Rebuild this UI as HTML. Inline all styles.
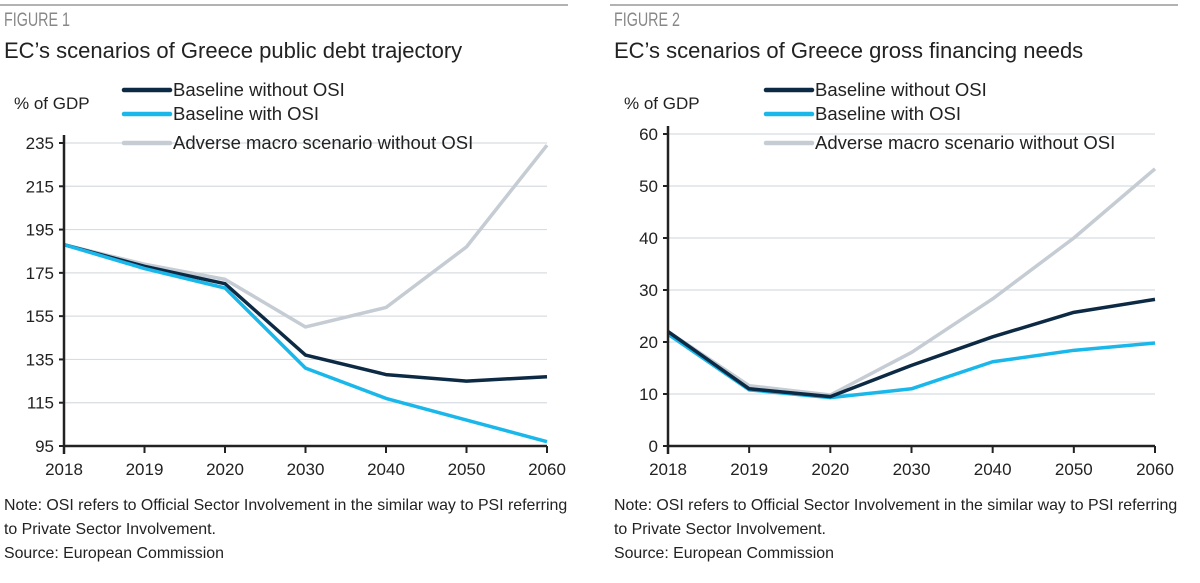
<!DOCTYPE html>
<html><head><meta charset="utf-8"><style>
body{margin:0;background:#fff;font-family:"Liberation Sans",sans-serif;}
svg text{font-family:"Liberation Sans",sans-serif;}
</style></head><body>
<svg width="1200" height="578">
<g id="c1"></g><g id="c2"></g>
</svg>
<script>
const years=["2018","2019","2020","2030","2040","2050","2060"];
const debtBaseline=[188,178,170,137,128,125,127];
const debtWithOsi=[188,177,168,131,117,107,97];
const debtAdverse=[188,179,172,150,159,187,234];
const debtTicks=[95,115,135,155,175,195,215,235];
const gfnBaseline=[22,11,9.5,15.5,21,25.7,28.2];
const gfnWithOsi=[21.5,10.8,9.3,11,16.2,18.4,19.8];
const gfnAdverse=[22,11.6,9.8,18,28.3,40,53.3];
const gfnTicks=[0,10,20,30,40,50,60];
const NS="http://www.w3.org/2000/svg";
function mk(p,t,a){const e=document.createElementNS(NS,t);for(const k in a)e.setAttribute(k,a[k]);p.appendChild(e);return e;}
function panel(g,o){
  const X=i=>o.x0+(o.x1-o.x0)*i/(years.length-1);
  const Y=v=>o.y0+(o.y1-o.y0)*(v-o.vmin)/(o.vmax-o.vmin);
  let e=mk(g,"line",{x1:o.left,x2:o.left+568,y1:5,y2:5,stroke:"#999","stroke-width":1.5});
  
  e=mk(g,"text",{x:o.left+4,y:26,"font-size":19,fill:"#888",textLength:66,lengthAdjust:"spacingAndGlyphs"});e.textContent=o.fig;
  
  e=mk(g,"text",{x:o.left+4,y:58,"font-size":22,fill:"#222"});e.textContent=o.title;
  
  e=mk(g,"text",{x:o.left+14,y:109,"font-size":17,fill:"#222"});e.textContent="% of GDP";
  
  o.ticks.forEach(t=>{
    const y=Y(t);
    if(t!==o.vmin){e=mk(g,"line",{x1:o.x0,x2:o.x1,y1:y,y2:y,stroke:"#d8dde2","stroke-width":1.2});
    }
    e=mk(g,"line",{x1:o.x0-5,x2:o.x0,y1:y,y2:y,stroke:"#222","stroke-width":2});
    
    e=mk(g,"text",{x:o.x0-10,y:y+6,"font-size":17,fill:"#222","text-anchor":"end"});e.textContent=t;
    
  });
  const series=[[o.adv,"#c5ccd3","adverse-line"],[o.base,"#0d2a45","baseline-without-osi-line"],[o.osi,"#1ab7ea","baseline-with-osi-line"]];
  const order=o.osiOnTop?[0,1,2]:[0,2,1];
  order.forEach(k=>{const s=series[k];
    e=mk(g,"polyline",{points:s[0].map((v,i)=>X(i)+","+Y(v)).join(" "),fill:"none",stroke:s[1],"stroke-width":3.5,"stroke-linejoin":"round"});
    
  });
  e=mk(g,"line",{x1:o.x0,x2:o.x0,y1:Y(o.vmax)-8,y2:o.y0+8,stroke:"#222","stroke-width":2.5});
  
  e=mk(g,"line",{x1:o.x0,x2:o.x1,y1:o.y0,y2:o.y0,stroke:"#222","stroke-width":2.5});
  
  years.forEach((yr,i)=>{
    e=mk(g,"line",{x1:X(i),x2:X(i),y1:o.y0,y2:o.y0+7,stroke:"#222","stroke-width":2});
    
    e=mk(g,"text",{x:X(i),y:o.y0+29,"font-size":17,fill:"#222","text-anchor":"middle"});e.textContent=yr;
    
  });
  const leg=[["Baseline without OSI","#0d2a45",90],["Baseline with OSI","#1ab7ea",114],["Adverse macro scenario without OSI","#c5ccd3",143]];
  leg.forEach(l=>{
    e=mk(g,"line",{x1:o.lx,x2:o.lx+46,y1:l[2],y2:l[2],stroke:l[1],"stroke-width":4.5,"stroke-linecap":"round"});
    
    e=mk(g,"text",{x:o.lx+49,y:l[2]+6,"font-size":18.5,fill:"#222"});e.textContent=l[0];
    
  });
  const notes=["Note: OSI refers to Official Sector Involvement in the similar way to PSI referring","to Private Sector Involvement.","Source: European Commission"];
  notes.forEach((n,i)=>{e=mk(g,"text",{x:o.left+4,y:510+i*24,"font-size":15.9,fill:"#222"});e.textContent=n;
    });
}
panel(document.getElementById("c1"),{left:0,fig:"FIGURE 1",title:"EC’s scenarios of Greece public debt trajectory",x0:64,x1:547,y0:446,y1:143,vmin:95,vmax:235,ticks:debtTicks,base:debtBaseline,osi:debtWithOsi,adv:debtAdverse,lx:124,osiOnTop:true});
panel(document.getElementById("c2"),{left:610,fig:"FIGURE 2",title:"EC’s scenarios of Greece gross financing needs",x0:668,x1:1155,y0:446,y1:134,vmin:0,vmax:60,ticks:gfnTicks,base:gfnBaseline,osi:gfnWithOsi,adv:gfnAdverse,lx:766,osiOnTop:false});
</script>
</body></html>
